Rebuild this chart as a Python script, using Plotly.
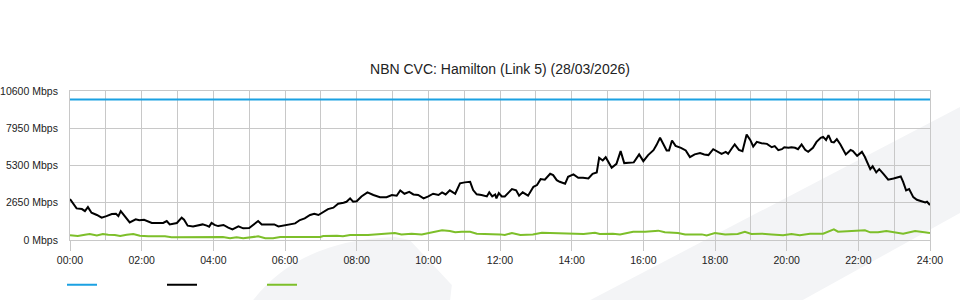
import plotly.graph_objects as go

# ---- data ----
title_text = "NBN CVC: Hamilton (Link 5) (28/03/2026)"
capacity_mbps = 10000

traffic_min = [0,11,20,25,30,36,45,53,61,70,77,81,85,92,100,110,116,124,137,148,156,162,167,179,187,191,197,206,215,222,229,233,237,242,
               248,257,265,272,282,290,300,307,315,321,329,335,342,349,357,368,377,385,393,402,409,416,424,432,441,449,458,463,469,474,480,
               488,498,508,519,530,539,547,553,560,568,575,583,592,600,608,617,623,629,636,645,653,661,670,675,681,689,698,702,707,712,714,
               718,723,728,740,747,752,758,767,776,782,788,795,804,809,815,820,829,834,843,851,859,868,875,882,886,892,897,907,915,922,928,
               938,944,953,960,968,977,982,988,993,999,1003,1008,1014,1023,1031,1038,1046,1055,1062,1069,1077,1084,1091,1098,1102,1108,1113,
               1120,1126,1133,1139,1144,1150,1158,1167,1175,1180,1186,1192,1196,1203,1208,1214,1219,1225,1231,1236,1244,1250,1257,1261,1266,
               1270,1275,1279,1284,1290,1299,1307,1311,1318,1326,1331,1340,1344,1350,1355,1362,1370,1379,1387,1391,1395,1400,1405,1412,1418,
               1426,1432,1435,1440]
traffic_mbps = [2910,2250,2200,2060,2340,1940,1780,1590,1700,1850,1870,1700,2060,1660,1250,1470,1400,1440,1210,1210,1210,1350,1110,1210,1590,1440,1020,970,1070,1110,1020,950,1210,1070,
                990,1070,880,760,970,830,850,1070,1350,1110,1110,1160,1110,970,1020,1070,1180,1420,1540,1780,1870,1780,1970,2200,2300,2580,2650,2720,2960,2720,2760,
                3100,3390,3200,3050,3050,3200,3150,3530,3290,3430,3240,3200,2960,3100,3290,3200,3390,3240,3530,3290,4030,4100,4140,3550,3250,3200,3100,3390,3100,3240,2960,
                3340,3100,3100,3620,3530,3150,3390,3150,3790,3910,4330,4290,4710,4620,4260,4140,4000,4500,4670,4430,4430,4380,4710,4800,5850,5660,5890,5140,5420,6320,5470,
                5520,5520,6090,5610,6040,6390,6750,7270,6870,6370,6370,7080,6700,6560,6370,5900,6090,6180,6090,6040,6460,6270,6130,6270,6130,6510,6800,
                6410,6320,7500,7120,6650,6980,6890,6840,6600,6680,6390,6460,6600,6560,6600,6560,6460,6800,6410,6270,6560,6980,7270,7340,7120,
                7460,6980,6940,7170,6800,6090,6410,6320,5990,6270,5900,5040,5240,4810,5040,4710,4290,4380,4470,4520,4140,3530,3620,3050,2860,
                2760,2670,2720,2490]

upload_min = [0,13,25,33,45,55,64,75,84,95,106,117,131,142,154,159,170,218,234,251,256,268,279,290,301,315,327,340,352,368,419,424,447,457,469,486,499,
              527,544,555,572,589,606,623,636,645,656,670,681,700,720,728,740,754,775,790,807,820,832,860,879,887,909,921,943,963,985,996,1018,1030,
              1058,1066,1080,1097,1118,1130,1141,1158,1175,1194,1208,1222,1239,1261,1279,1286,1309,1331,1340,1353,1367,1378,1395,1415,1428,1440]
upload_mbps = [330,280,380,425,330,425,380,355,280,380,425,305,260,260,210,260,190,190,165,165,210,120,190,120,190,260,120,120,210,210,210,280,305,260,355,355,355,
               450,500,400,450,400,545,690,640,545,590,590,450,450,400,355,500,355,400,520,500,450,425,425,520,425,450,400,590,590,665,545,500,400,
               400,330,500,400,425,590,425,450,400,330,425,330,450,450,760,590,640,690,545,545,640,545,450,640,545,500]

x_tick_hours = list(range(0, 25, 2))
x_tick_labels = [f"{h:02d}:00" for h in x_tick_hours]
y_tick_vals = [0, 2650, 5300, 7950, 10600]
y_tick_labels = [f"{v} Mbps" for v in y_tick_vals]

BLUE = "#1ba1e2"
BLACK = "#000000"
GREEN = "#7dbf2a"
GRID = "#c8c8c8"

fig = go.Figure()
fig.add_trace(go.Scatter(x=[0, 24], y=[capacity_mbps, capacity_mbps], mode="lines",
                         line=dict(color=BLUE, width=2), name=""))
fig.add_trace(go.Scatter(x=[m / 60 for m in traffic_min], y=traffic_mbps, mode="lines",
                         line=dict(color=BLACK, width=2), name=""))
fig.add_trace(go.Scatter(x=[m / 60 for m in upload_min], y=upload_mbps, mode="lines",
                         line=dict(color=GREEN, width=2), name=""))

# faint background watermark
wm = "#f3f4f6"
fig.add_shape(type="path", xref="paper", yref="paper", layer="below", line_width=0, fillcolor=wm,
              path="M 0.213,-0.403 Q 0.267,0.0 0.378,0.02 L 0.395,0 L 0.444,-0.302 L 0.442,-0.403 Z")
fig.add_shape(type="path", xref="paper", yref="paper", layer="below", line_width=0, fillcolor=wm,
              path="M 0.605,-0.403 L 1.035,0.893 L 1.035,0.181 L 0.852,-0.403 Z")

fig.update_layout(
    width=960, height=300,
    margin=dict(l=70, r=30, t=91, b=60, autoexpand=False),
    paper_bgcolor="white", plot_bgcolor="rgba(0,0,0,0)",
    font=dict(family="Liberation Sans, Arial, sans-serif", size=10.5, color="#222"),
    title=dict(text=title_text, x=0.5, xref="paper", y=1, yref="container", yanchor="top",
               pad=dict(t=64), font=dict(size=14, color="#222")),
    showlegend=True,
    legend=dict(orientation="h", x=-0.0093, xanchor="left", y=-0.30, yanchor="middle",
                entrywidth=55, entrywidthmode="pixels", bgcolor="rgba(0,0,0,0)",
                font=dict(size=11)),
    xaxis=dict(range=[0, 24], tickvals=x_tick_hours, ticktext=x_tick_labels,
               showgrid=True, gridcolor=GRID, gridwidth=1,
               minor=dict(dtick=1, tick0=0, showgrid=True, gridcolor=GRID, gridwidth=1),
               ticks="outside", ticklen=10, tickcolor=GRID, tickwidth=1,
               showline=True, linecolor=GRID, linewidth=1, mirror=True, zeroline=False,
               fixedrange=True, automargin=False),
    yaxis=dict(range=[0, 10600], tickvals=y_tick_vals, ticktext=y_tick_labels,
               showgrid=True, gridcolor=GRID, gridwidth=1,
               showline=True, linecolor=GRID, linewidth=1, mirror=True, zeroline=False,
               ticks="", ticklabelstandoff=9, fixedrange=True, automargin=False),
)

fig.write_html("out.html")
